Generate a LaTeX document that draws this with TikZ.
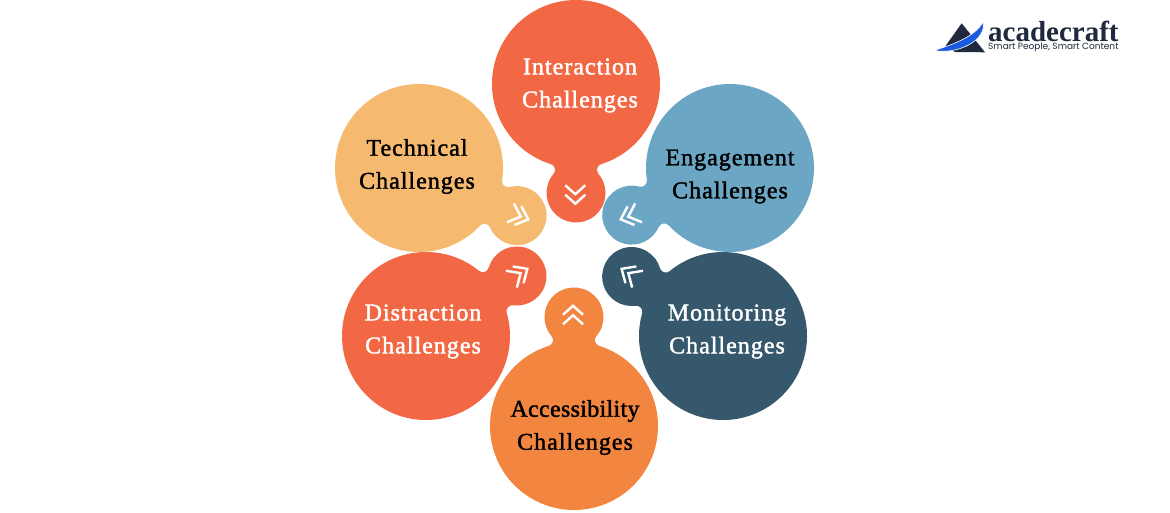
\documentclass[tikz,border=0pt]{standalone}
\usepackage{fontspec}
\setmainfont{Liberation Serif}
\newfontfamily\chalfont{Liberation Serif}[FakeBold=1.6, LetterSpace=4.2]
\newfontfamily\logosans{Poppins}
\definecolor{redorange}{HTML}{F26845}
\definecolor{sand}{HTML}{F5B96F}
\definecolor{skyblue}{HTML}{6CA6C5}
\definecolor{slateblue}{HTML}{35586D}
\definecolor{brightorange}{HTML}{F28540}
\definecolor{logodark}{HTML}{1F2A3E}
\definecolor{logoblue}{HTML}{1A5AE0}
\tikzset{
  chaltext/.style = {font = \chalfont\fontsize{24}{33}\selectfont, align = center, inner sep = 0pt},
  chevron/.style = {draw = white, line width = 2.4pt}
}
\newcommand{\chalblob}[4]{
  \begin{scope}[shift = {(#1, #2)}, rotate = #3]
    \fill[#4] (17.4:84) arc[start angle = 17.4, end angle = 342.6, radius = 84]
    arc[start angle = 162.6, end angle = 49.36, radius = 6]
    arc[start angle = 229.36, end angle = 490.64, radius = 29.5]
    arc[start angle = -49.36, end angle = -162.6, radius = 6] -- cycle;
  \end{scope}
}
\newcommand{\chalchevrons}[6]{
  \begin{scope}[shift = {(#1, #2)}, rotate = #3]
    \draw[chevron] (-#6 / 2 - #4, #5) -- (-#6 / 2, 0) -- (-#6 / 2 - #4, -#5);
    \draw[chevron] (#6 / 2 - #4, #5) -- (#6 / 2, 0) -- (#6 / 2 - #4, -#5);
  \end{scope}
}
\begin{document}
\begin{tikzpicture}[x = 1pt, y = 1pt]
    \useasboundingbox (0, 0) rectangle (1170, 512);
    \fill[white] (0, 0) rectangle (1170, 512);
    % petals
    \chalblob{576}{428}{-90}{redorange}
    \chalblob{730}{344}{205.6}{skyblue}
    \chalblob{723}{176}{146.9}{slateblue}
    \chalblob{574}{86}{90}{brightorange}
    \chalblob{426}{176}{33.4}{redorange}
    \chalblob{419}{344}{-25.9}{sand}
    % double arrows
    \chalchevrons{575.3}{313}{-90}{9}{10}{9.5}
    \chalchevrons{624.5}{294}{200}{11}{10}{8}
    \chalchevrons{625}{241}{147}{11}{10}{8}
    \chalchevrons{573}{201.5}{90}{9}{10}{9.5}
    \chalchevrons{524}{241}{33}{11}{10}{8}
    \chalchevrons{524.5}{294}{-20}{11}{10}{8}
    % labels
    \node[chaltext, text = white] (interaction) at (580, 426.5) {Interaction\\Challenges};
    \node[chaltext, text = black] (engagement) at (730, 335.5) {Engagement\\Challenges};
    \node[chaltext, text = white] (monitoring) at (727, 180.5) {Monitoring\\Challenges};
    \node[chaltext, text = black] (accessibility) at (575, 84.5) {\addfontfeature{LetterSpace=1.3}Accessibility\\Challenges};
    \node[chaltext, text = white] (distraction) at (423, 180.5) {Distraction\\Challenges};
    \node[chaltext, text = black] (technical) at (417, 345.5) {Technical\\Challenges};
    % logo
    \fill[logodark] (945, 465.3) -- (961.7, 488.7) -- (985, 459.7) -- (955, 460) -- cycle;
    \fill[logoblue, draw = white, line width = 0.6pt] (934, 461.5) .. controls (958, 457) and (987, 472) .. (983, 490) .. controls (976, 477) and (958, 469) .. (934, 461.5) -- cycle;
    \node[anchor = base west, inner sep = 0pt, text = logodark, font = \fontsize{29}{29}\selectfont\bfseries] (logoname) at (988, 470) {acadecraft};
    \node[anchor = base west, inner sep = 0pt, text = logodark, font = \logosans\fontsize{9}{10}\selectfont] (logotag) at (988, 462) {Smart People, Smart Content};
\end{tikzpicture}
\end{document}
